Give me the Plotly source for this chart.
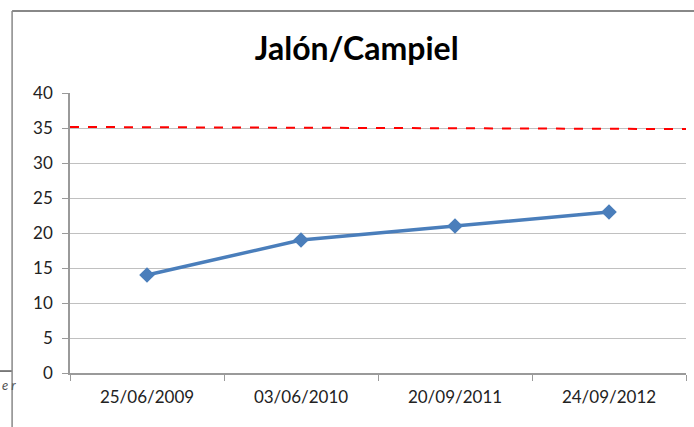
import plotly.graph_objects as go

dates = ["25/06/2009", "03/06/2010", "20/09/2011", "24/09/2012"]
values = [14, 19, 21, 23]
limit_ends = [35.15, 34.85]
y_ticks = [0, 5, 10, 15, 20, 25, 30, 35, 40]

pos = list(range(len(dates)))
edge = [-0.5, len(dates) - 0.5]

fig = go.Figure()
fig.add_trace(go.Scatter(
    x=edge, y=limit_ends, mode="lines",
    line=dict(color="#ff0000", width=2, dash="dash"),
    showlegend=False, hoverinfo="skip"))
fig.add_trace(go.Scatter(
    x=pos, y=values, mode="lines+markers",
    line=dict(color="#4a7ebb", width=3.5),
    marker=dict(symbol="diamond", size=12, color="#4a7ebb"),
    showlegend=False))

fig.update_layout(
    width=694, height=427,
    margin=dict(l=70, r=8, t=93, b=54, autoexpand=False),
    paper_bgcolor="white", plot_bgcolor="white",
    title=dict(text="<b>Jalón/Campiel</b>", x=0.514, xanchor="center",
               y=0.885, yanchor="middle",
               font=dict(family="Lato, Open Sans, sans-serif", size=32, color="#000")),
    font=dict(family="Lato, Open Sans, sans-serif", size=17, color="#222"),
    xaxis=dict(range=edge, tickmode="array", tickvals=pos, ticktext=dates,
               showgrid=False, zeroline=False, showline=True,
               linecolor="#9a9a9a", linewidth=1.5, ticks="", ticklabelstandoff=8,
               minor=dict(tick0=-0.5, dtick=1, ticks="outside", ticklen=6,
                          tickcolor="#9a9a9a", showgrid=False)),
    yaxis=dict(range=[0, 40], tickmode="array", tickvals=y_ticks,
               showgrid=True, gridcolor="#c0c0c0", gridwidth=1,
               zeroline=False, showline=True, linecolor="#9a9a9a", linewidth=1.5,
               ticks="outside", ticklen=6, tickcolor="#9a9a9a", ticklabelstandoff=6),
    shapes=[
        dict(type="line", xref="paper", yref="paper",
             x0=-0.094, x1=1.02, y0=1.293, y1=1.293,
             line=dict(color="#888888", width=2)),
        dict(type="line", xref="paper", yref="paper",
             x0=-0.094, x1=-0.094, y0=1.293, y1=-0.2,
             line=dict(color="#888888", width=1.5)),
        dict(type="line", xref="paper", yref="paper",
             x0=-0.115, x1=-0.095, y0=0.007, y1=0.007,
             line=dict(color="#000000", width=1)),
    ],
    annotations=[
        dict(text="<i>e r</i>", xref="paper", yref="paper", x=-0.114, y=-0.043,
             xanchor="left", yanchor="middle", showarrow=False,
             font=dict(size=13, color="#555"))
    ],
)

fig.write_html("out.html", config={"displayModeBar": False},
               post_script="document.body.style.margin='0';document.body.style.overflow='hidden';")
